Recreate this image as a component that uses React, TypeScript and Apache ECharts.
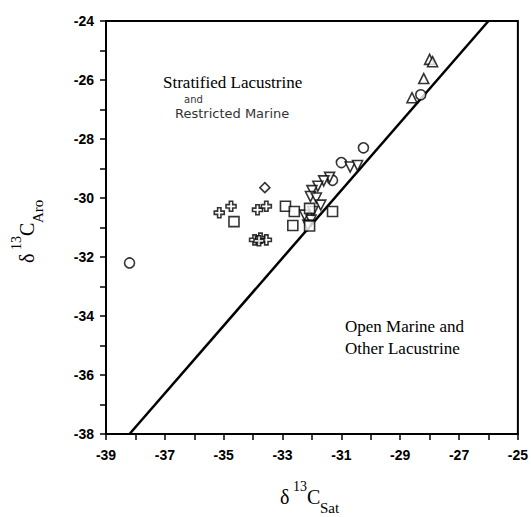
import React, { useEffect, useRef } from 'react';
import * as echarts from 'echarts';

// Data (δ13C Sat, δ13C Aro)
const circles: number[][] = [
  [-38.2, -32.2], [-31.3, -29.4], [-31.0, -28.8], [-30.25, -28.3], [-28.3, -26.5],
];
const trianglesUp: number[][] = [
  [-28.6, -26.6], [-28.2, -25.95], [-28.0, -25.3], [-27.9, -25.38],
];
const trianglesDown: number[][] = [
  [-30.7, -28.95], [-30.45, -28.9], [-31.4, -29.3], [-31.6, -29.42], [-31.8, -29.6],
  [-32.0, -29.75], [-32.05, -29.95], [-31.85, -30.0], [-31.7, -30.24], [-31.97, -30.46],
  [-32.25, -30.58], [-32.03, -30.75], [-32.14, -30.92],
];
const squares: number[][] = [
  [-34.65, -30.8], [-32.9, -30.28], [-32.6, -30.46], [-32.08, -30.35], [-31.3, -30.46],
  [-32.65, -30.93], [-32.08, -30.95],
];
const crosses: number[][] = [
  [-35.15, -30.5], [-34.75, -30.28], [-33.85, -30.4], [-33.55, -30.28],
  [-33.95, -31.42], [-33.75, -31.36], [-33.55, -31.42], [-33.8, -31.45],
];
const diamonds: number[][] = [[-33.6, -29.65]];
const divideLine: number[][] = [[-38.2, -38], [-26, -24]];

const xRange = [-39, -25];
const yRange = [-38, -24];

const CROSS = 'path://M3,0H6V3H9V6H6V9H3V6H0V3H3Z';

export default function App() {
  const ref = useRef<HTMLDivElement>(null);
  useEffect(() => {
    document.body.style.margin = '0';
    if (!ref.current) return;
    const chart = echarts.init(ref.current, null, { renderer: 'svg' });
    const itemStyle = { color: '#fff', borderColor: '#000', borderWidth: 1.6 };
    const scatter = (name: string, data: number[][], symbol: string, size: number, rotate = 0) => ({
      name,
      type: 'scatter',
      data,
      symbol,
      symbolSize: size,
      symbolRotate: rotate,
      itemStyle,
      z: 3,
    });
    const axisLabelStyle = {
      color: '#000',
      fontFamily: '"Liberation Sans", Arial, sans-serif',
      fontWeight: 700,
      fontSize: 14,
    };
    const serif = '"Liberation Serif", "Times New Roman", serif';
    const titleParts = (sub: string) => [
      { type: 'text', x: 0, y: 0, style: { text: 'δ', font: `20px ${serif}`, fill: '#000', textAlign: 'left', textVerticalAlign: 'middle' } },
      { type: 'text', x: 13, y: -11, style: { text: '13', font: `14px ${serif}`, fill: '#000', textAlign: 'left', textVerticalAlign: 'middle' } },
      { type: 'text', x: 27, y: 0, style: { text: 'C', font: `20px ${serif}`, fill: '#000', textAlign: 'left', textVerticalAlign: 'middle' } },
      { type: 'text', x: 40, y: 11, style: { text: sub, font: `15px ${serif}`, fill: '#000', textAlign: 'left', textVerticalAlign: 'middle' } },
    ];
    chart.setOption({
      animation: false,
      grid: {
        left: 106, top: 21, width: 413, height: 413,
        show: true, borderColor: '#000', borderWidth: 2, backgroundColor: 'transparent',
      },
      xAxis: {
        type: 'value', min: xRange[0], max: xRange[1], interval: 1,
        axisLine: { show: true, lineStyle: { color: '#000', width: 2 } },
        axisTick: { show: true, inside: false, length: 6, lineStyle: { color: '#000', width: 1.5 } },
        axisLabel: {
          ...axisLabelStyle, margin: 14,
          formatter: (v: number) => (Math.abs(Math.round(v)) % 2 === 1 ? String(v) : ''),
        },
        splitLine: { show: false },
      },
      yAxis: {
        type: 'value', min: yRange[0], max: yRange[1], interval: 1,
        axisLine: { show: true, lineStyle: { color: '#000', width: 2 } },
        axisTick: { show: true, inside: false, length: 6, lineStyle: { color: '#000', width: 1.5 } },
        axisLabel: {
          ...axisLabelStyle, margin: 12,
          formatter: (v: number) => (Math.abs(Math.round(v)) % 2 === 0 ? String(v) : ''),
        },
        splitLine: { show: false },
      },
      series: [
        {
          name: 'divide', type: 'line', data: divideLine, symbol: 'none',
          lineStyle: { color: '#000', width: 2.5 }, z: 2,
        },
        scatter('circles', circles, 'circle', 10),
        scatter('trianglesUp', trianglesUp, 'triangle', 10),
        scatter('trianglesDown', trianglesDown, 'triangle', 10, 180),
        scatter('squares', squares, 'rect', 10),
        scatter('crosses', crosses, CROSS, 10),
        scatter('diamonds', diamonds, 'diamond', 10),
      ],
      graphic: [
        { type: 'text', left: 163, top: 74, style: { text: 'Stratified Lacustrine', font: `17px ${serif}`, fill: '#000' } },
        { type: 'text', left: 184, top: 94, style: { text: 'and', font: '10px "DejaVu Sans", sans-serif', fill: '#333' } },
        { type: 'text', left: 175, top: 107, style: { text: 'Restricted Marine', font: '13px "DejaVu Sans", sans-serif', fill: '#333' } },
        { type: 'text', left: 345, top: 318, style: { text: 'Open Marine and', font: `17px ${serif}`, fill: '#000' } },
        { type: 'text', left: 345, top: 340, style: { text: 'Other Lacustrine', font: `17px ${serif}`, fill: '#000' } },
        { type: 'group', x: 280, y: 497, children: titleParts('Sat') },
        { type: 'group', x: 27, y: 263, rotation: Math.PI / 2, children: titleParts('Aro') },
      ],
    });
    return () => chart.dispose();
  }, []);
  return <div ref={ref} style={{ width: 531, height: 517 }} />;
}
